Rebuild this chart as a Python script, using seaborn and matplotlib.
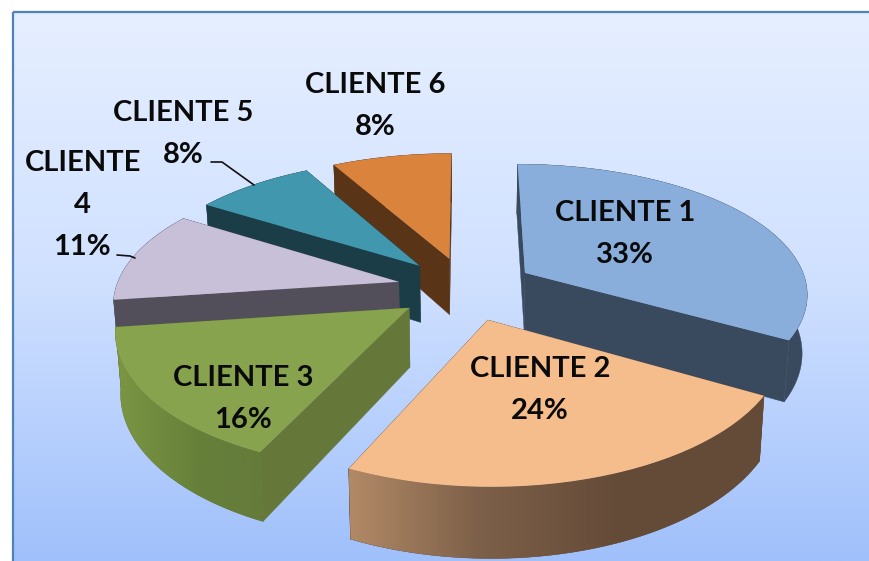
import numpy as np
import matplotlib
matplotlib.use("Agg")
import matplotlib.pyplot as plt
import seaborn as sns
from matplotlib.patches import Polygon, Rectangle
from matplotlib.transforms import Transform
from matplotlib.colors import LinearSegmentedColormap

labels = ["CLIENTE 1", "CLIENTE 2", "CLIENTE 3", "CLIENTE\n4", "CLIENTE 5", "CLIENTE 6"]
values = [33.3, 23.6, 15.9, 11.2, 8.0, 8.0]
pct_labels = ["33%", "24%", "16%", "11%", "8%", "8%"]
explode = [0.245] * 6
top_colors = ["#8AAEDC", "#F6BD8C", "#88A34D", "#C8BFD8", "#4097AE", "#DA833C"]
side_colors = ["#3A4A5E", "#644B38", "#65783A", "#524E5A", "#1B3D48", "#5A3417"]
draw_order = [5, 4, 3, 2, 0, 1]

CX, CY, RX, RY, KX, KY, DEPTH, SHRINK = 466.0, 288.5, 283.0, 130.0, 0.145, 0.155, 58.0, 0.985


def project(xy, drop=0.0):
    xy = np.asarray(xy, dtype=float)
    wx = 1 + KX * xy[:, 1]
    wy = 1 + KY * xy[:, 1]
    sx = SHRINK if drop else 1.0
    return np.column_stack([CX + sx * RX * xy[:, 0] / wx, CY - RY * xy[:, 1] / wy + drop / wy])


class Perspective(Transform):
    input_dims = 2
    output_dims = 2
    has_inverse = False

    def transform_non_affine(self, values):
        return project(values)


sns.set_theme(style="white")
plt.rcParams["font.family"] = ["Lato", "DejaVu Sans"]
fig = plt.figure(figsize=(8.69, 5.61), dpi=100, facecolor="white")
ax = fig.add_axes([0, 0, 1, 1])

bg = LinearSegmentedColormap.from_list("bg", ["#E6EFFF", "#CFE0FF", "#A0C0FB"])
ax.imshow(np.linspace(0, 1, 256)[:, None], cmap=bg, extent=(13, 869, 561, 12),
          aspect="auto", zorder=0)

wedges, _ = ax.pie(values, explode=explode, colors=sns.color_palette(top_colors),
                   startangle=90, counterclock=False, radius=1,
                   wedgeprops={"linewidth": 0})
proj = Perspective() + ax.transData

rim_gradients = {
    1: (335, 763, ["#B88E6A", "#7D6049", "#644B38", "#644B38"]),
    2: (100, 300, ["#7F9A45", "#66803A", "#65783A"]),
}

for rank, i in enumerate(draw_order):
    w = wedges[i]
    z = 2 + rank * 3
    cx0, cy0 = w.center
    th = np.radians(np.linspace(w.theta1, w.theta2, 120))
    arc = np.column_stack([cx0 + w.r * np.cos(th), cy0 + w.r * np.sin(th)])
    apex = np.array([[cx0, cy0]])
    for edge in (arc[:1], arc[-1:]):
        seg = np.vstack([apex, edge])
        poly = np.vstack([project(seg), project(seg, DEPTH)[::-1]])
        ax.add_patch(Polygon(poly, closed=True, fc=side_colors[i], ec=side_colors[i],
                             lw=0.3, zorder=z))
    rim = np.vstack([project(arc), project(arc, DEPTH)[::-1]])
    rim_patch = Polygon(rim, closed=True, fc=side_colors[i], ec=side_colors[i], lw=0.3, zorder=z)
    ax.add_patch(rim_patch)
    if i in rim_gradients:
        x0, x1, cols = rim_gradients[i]
        cm = LinearSegmentedColormap.from_list(f"rim{i}", cols)
        im = ax.imshow(np.linspace(0, 1, 256)[None, :], cmap=cm, extent=(x0, x1, 561, 300),
                       aspect="auto", zorder=z + 0.5)
        im.set_clip_path(rim_patch)
    w.set_transform(proj)
    w.set_zorder(z + 1)

ax.set_xlim(0, 869)
ax.set_ylim(561, 0)
ax.set_aspect("auto")
ax.axis("off")

ax.add_patch(Rectangle((13, 12), 870, 560, fill=False, ec="#4F81BD", lw=1.6, zorder=1))

text_kw = dict(ha="center", va="center", fontsize=21, fontweight="bold", color="#0A0A0A", zorder=40)
line_centres = {
    0: [(625, 213), (625, 255)],
    1: [(540, 369), (540, 411)],
    2: [(243, 378), (243, 420)],
    3: [(83, 163), (82, 205), (82, 247)],
    4: [(183, 113), (183, 155)],
    5: [(375, 85), (375, 127)],
}
for i, pts in line_centres.items():
    parts = labels[i].split("\n") + [pct_labels[i]]
    for (x, y), s in zip(pts, parts):
        ax.text(x, y, s, **text_kw)

ax.plot([211, 222, 254], [162, 162, 185], color="#111111", lw=1.2, zorder=39)
ax.plot([117, 130, 135], [255, 256, 258], color="#111111", lw=1.2, zorder=39)

fig.savefig("out.png", dpi=100)
